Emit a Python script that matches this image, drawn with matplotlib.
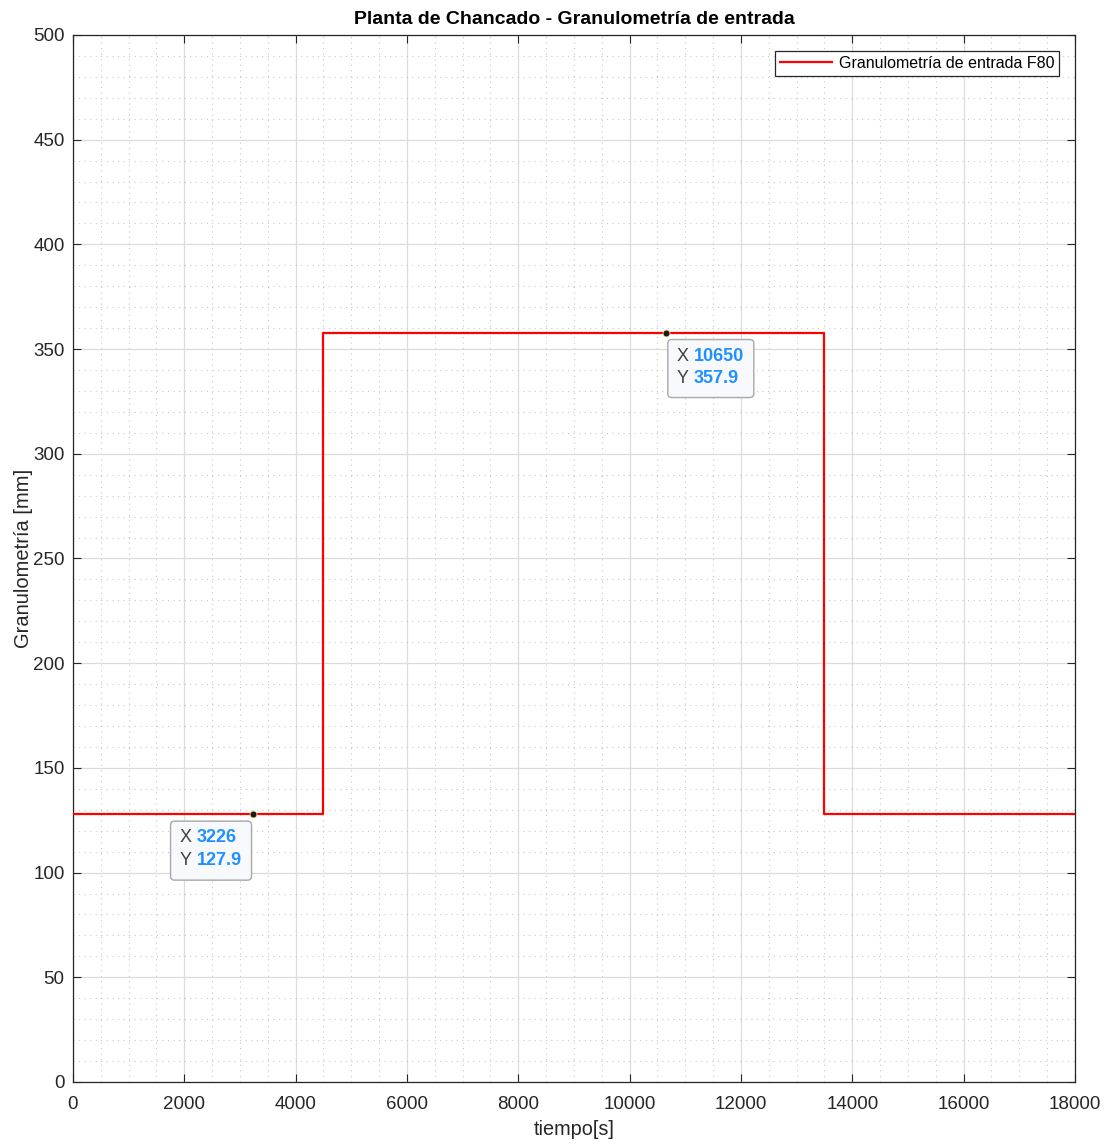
import numpy as np
import matplotlib.pyplot as plt
from matplotlib.ticker import MultipleLocator
from matplotlib.patches import FancyBboxPatch
from matplotlib.transforms import ScaledTranslation

# Datos de la granulometria (escalon)
tiempo = [0, 4500, 13500, 18000]
f80 = [127.9, 357.9, 127.9, 127.9]

# Datatips
tip_x = [3226, 10650]
tip_y = [127.9, 357.9]

plt.rcParams['font.family'] = ['Liberation Sans', 'DejaVu Sans']

fig = plt.figure(figsize=(11.09, 11.43), dpi=100)
ax = fig.add_axes([0.0658, 0.0534, 0.9035, 0.916])

ax.plot(tiempo, f80, drawstyle='steps-post', color='#ff0000', lw=1.6,
        label='Granulometría de entrada F80', zorder=3)

ax.set_xlim(0, 18000)
ax.set_ylim(0, 500)
ax.xaxis.set_major_locator(MultipleLocator(2000))
ax.xaxis.set_minor_locator(MultipleLocator(500))
ax.yaxis.set_major_locator(MultipleLocator(50))
ax.yaxis.set_minor_locator(MultipleLocator(10))
ax.grid(which='major', color='#dcdcdc', lw=0.9)
ax.grid(which='minor', color='#c8c8c8', lw=0.8, ls=(0, (1, 4)))
ax.tick_params(which='both', direction='in', top=True, right=True,
               labelsize=13.5, colors='#262626')
ax.tick_params(which='major', length=6)
ax.tick_params(axis='x', which='major', pad=10)
ax.tick_params(axis='y', which='major', pad=6)
ax.tick_params(which='minor', length=0)
for s in ax.spines.values():
    s.set_color('#262626')
    s.set_linewidth(0.9)

ax.set_title('Planta de Chancado - Granulometría de entrada', fontsize=14,
             fontweight='bold', pad=8)
ax.set_xlabel('tiempo[s]', fontsize=14.3, color='#262626', labelpad=5)
ax.set_ylabel('Granulometría [mm]', fontsize=14.5, color='#262626', labelpad=0)

leg = ax.legend(loc='upper right', fontsize=11.5, fancybox=False,
                framealpha=1, edgecolor='#262626', handlelength=3.3,
                borderaxespad=1.0, borderpad=0.3, handletextpad=0.4)
leg.get_frame().set_linewidth(0.9)

# cajas de los datatips, en pulgadas relativo al punto
# (izq, der, arriba, abajo, x de 'X', x del valor)
cajas = [(-0.82, -0.01, -0.07, -0.66, -0.73, -0.56),
         (0.02, 0.88, -0.07, -0.65, 0.11, 0.28)]
for x, y, c in zip(tip_x, tip_y, cajas):
    ax.plot(x, y, 'o', ms=5, color='#1a1a1a', mec='#f0e68c', mew=0.6, zorder=5)
    tr = fig.dpi_scale_trans + ScaledTranslation(x, y, ax.transData)
    caja = FancyBboxPatch((c[0], c[3]), c[1] - c[0], c[2] - c[3],
                          boxstyle='round,pad=0,rounding_size=0.04',
                          fc='#f8f9fc', ec='#a8a8a8', lw=1, transform=tr,
                          zorder=6, clip_on=False)
    ax.add_patch(caja)
    for fila, (nombre, valor) in enumerate([('X', x), ('Y', y)]):
        yy = -0.235 - fila * 0.225
        ax.text(c[4], yy, nombre, transform=tr, ha='left', va='center',
                fontsize=13, color='#404040', zorder=7)
        ax.text(c[5], yy, str(valor), transform=tr, ha='left', va='center',
                fontsize=13, color='#1e90ff', fontweight='bold', zorder=7)

fig.savefig('out.png', dpi=100)
